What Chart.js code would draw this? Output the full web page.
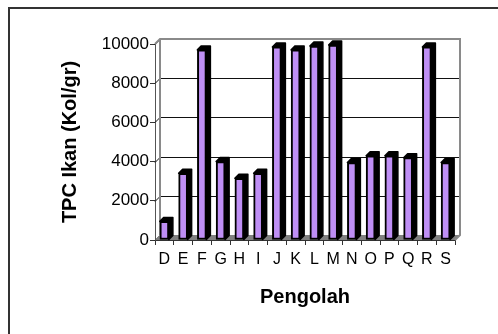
<!DOCTYPE html>
<html>
<head>
<meta charset="utf-8">
<script src="https://cdn.jsdelivr.net/npm/chart.js@4/dist/chart.umd.min.js"></script>
<style>
  html, body { margin: 0; padding: 0; background: #fff; }
  #wrap { width: 498px; height: 334px; position: relative; }
</style>
</head>
<body>
<div id="wrap"><canvas id="c" width="498" height="334"></canvas></div>
<script>
// Processor codes on the category axis
const pengolah = ['D','E','F','G','H','I','J','K','L','M','N','O','P','Q','R','S'];
// Total plate count per processor (colonies per gram)
const tpcIkan = [950, 3400, 9700, 4000, 3150, 3400, 9850, 9700, 9900, 9950, 3950, 4300, 4300, 4200, 9850, 3950];
// Value axis ticks
const yTicks = [0, 2000, 4000, 6000, 8000, 10000];

const FONT = '"Liberation Sans", Arial, sans-serif';
const WALL_D = 5;   // depth offset of the back wall
const BAR_D = 4;    // depth offset of each column

const depthPlugin = {
  id: 'depth3d',
  beforeDraw(chart) {
    const ctx = chart.ctx;
    ctx.save();
    ctx.fillStyle = '#fff';
    ctx.fillRect(0, 0, chart.width, chart.height);
    // outer frame (top and left edges)
    ctx.strokeStyle = '#333';
    ctx.lineWidth = 2;
    ctx.beginPath();
    ctx.moveTo(9, chart.height);
    ctx.lineTo(9, 8);
    ctx.lineTo(chart.width, 8);
    ctx.stroke();
    ctx.restore();
  },
  beforeDatasetsDraw(chart) {
    const ctx = chart.ctx;
    const a = chart.chartArea;
    const y = chart.scales.y;
    const d = WALL_D;
    ctx.save();
    // back wall
    ctx.fillStyle = '#fff';
    ctx.fillRect(a.left + d, a.top - d, a.right - a.left, a.bottom - a.top);
    // gridlines on the back wall and the left side wall
    ctx.strokeStyle = '#111';
    ctx.lineWidth = 1;
    yTicks.forEach(v => {
      const py = Math.round(y.getPixelForValue(v)) + 0.5;
      ctx.beginPath();
      ctx.moveTo(a.left, py);
      ctx.lineTo(a.left + d, py - d);
      ctx.lineTo(a.right + d, py - d);
      ctx.stroke();
    });
    // floor
    ctx.fillStyle = '#808080';
    ctx.beginPath();
    ctx.moveTo(a.left, a.bottom);
    ctx.lineTo(a.left + d, a.bottom - d);
    ctx.lineTo(a.right + d, a.bottom - d);
    ctx.lineTo(a.right, a.bottom);
    ctx.closePath();
    ctx.fill();
    // wall outline
    ctx.strokeStyle = '#8a8a8a';
    ctx.lineWidth = 2;
    ctx.beginPath();
    ctx.moveTo(a.left, a.top);
    ctx.lineTo(a.left + d, a.top - d);
    ctx.lineTo(a.right + d, a.top - d);
    ctx.lineTo(a.right + d, a.bottom - d);
    ctx.lineTo(a.right, a.bottom);
    ctx.stroke();
    ctx.beginPath();
    ctx.moveTo(a.left + d, a.top - d);
    ctx.lineTo(a.left + d, a.bottom - d);
    ctx.stroke();

    // column sides and tops
    const meta = chart.getDatasetMeta(0);
    ctx.fillStyle = '#000';
    ctx.strokeStyle = '#000';
    ctx.lineWidth = 1.5;
    ctx.lineJoin = 'round';
    meta.data.forEach(bar => {
      const p = bar.getProps(['x', 'y', 'base', 'width'], true);
      const x0 = p.x - p.width / 2, x1 = p.x + p.width / 2;
      const top = p.y, bot = p.base;
      const b = BAR_D;
      ctx.beginPath();
      ctx.moveTo(x0, top);
      ctx.lineTo(x0 + b, top - b);
      ctx.lineTo(x1 + b, top - b);
      ctx.lineTo(x1 + b, bot - b);
      ctx.lineTo(x1, bot);
      ctx.lineTo(x1, top);
      ctx.closePath();
      ctx.fill();
      ctx.stroke();
    });
    ctx.restore();
  }
};

new Chart(document.getElementById('c'), {
  type: 'bar',
  data: {
    labels: pengolah,
    datasets: [{
      data: tpcIkan,
      backgroundColor: '#bf8ff5',
      borderColor: '#000',
      borderWidth: 2,
      borderSkipped: false,
      barThickness: 9
    }]
  },
  options: {
    responsive: false,
    animation: false,
    events: [],
    layout: { padding: { left: 54, top: 44, right: 43, bottom: 21 } },
    plugins: { legend: { display: false }, tooltip: { enabled: false } },
    scales: {
      x: {
        grid: { display: true, drawOnChartArea: false, drawTicks: true, tickLength: 5, color: '#333', offset: true },
        border: { display: true, color: '#333', width: 1 },
        ticks: { color: '#000', font: { family: FONT, size: 16 }, padding: 5, maxRotation: 0, autoSkip: false },
        title: { display: true, text: 'Pengolah', color: '#000', font: { family: FONT, size: 20, weight: 'bold' } },
        afterFit(s) { s.height = 73; }
      },
      y: {
        min: 0, max: 10000,
        afterBuildTicks(s) { s.ticks = yTicks.map(v => ({ value: v })); },
        grid: { display: true, drawOnChartArea: false, drawTicks: true, tickLength: 5, color: '#333' },
        border: { display: true, color: '#555', width: 1 },
        ticks: { color: '#000', font: { family: FONT, size: 17 }, padding: 1, callback: v => String(v) },
        title: { display: true, text: 'TPC Ikan (Kol/gr)', color: '#000', font: { family: FONT, size: 20, weight: 'bold' } },
        afterFit(s) { s.width = 101; }
      }
    }
  },
  plugins: [depthPlugin]
});
</script>
</body>
</html>
